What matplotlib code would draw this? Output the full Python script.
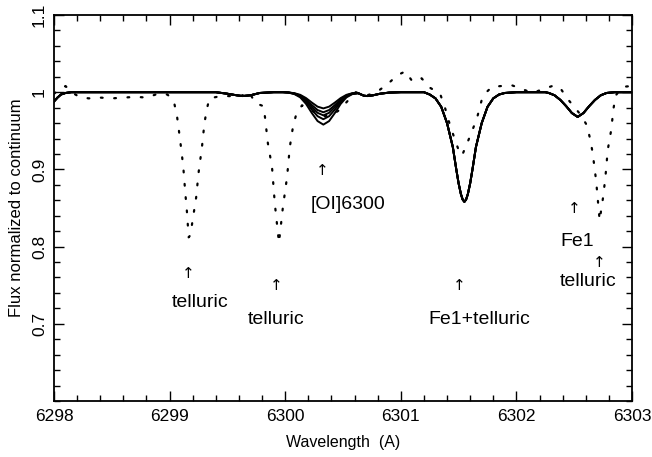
import matplotlib
matplotlib.use("Agg")
import matplotlib.pyplot as plt
from matplotlib.ticker import MultipleLocator, FixedLocator

plt.rcParams['font.family'] = ['Liberation Sans', 'DejaVu Sans']

# ---- synthetic (solid) spectrum, common parts ----
wl_pre = [6298.00, 6298.03, 6298.06, 6298.10, 6298.15, 6298.50, 6299.00, 6299.40,
          6299.50, 6299.58, 6299.63, 6299.70, 6299.78, 6299.90, 6299.98]
fl_pre = [0.988, 0.993, 0.997, 0.999, 1.000, 1.000, 1.000, 1.000,
          0.998, 0.996, 0.995, 0.996, 0.999, 1.000, 1.000]

# [OI] 6300 region, five models with different oxygen abundance
wl_oi = [6300.03, 6300.08, 6300.13, 6300.18, 6300.23, 6300.28, 6300.33,
         6300.38, 6300.43, 6300.48, 6300.53, 6300.58, 6300.63]
fl_oi_1 = [0.9997, 0.9987, 0.9966, 0.9924, 0.9866, 0.9813, 0.979,
           0.9813, 0.9866, 0.9924, 0.9966, 0.9987, 0.9990]
fl_oi_2 = [0.9996, 0.9984, 0.9958, 0.9906, 0.9834, 0.9769, 0.974,
           0.9769, 0.9834, 0.9906, 0.9958, 0.9984, 0.9989]
fl_oi_3 = [0.9996, 0.9982, 0.9952, 0.9892, 0.9808, 0.9733, 0.970,
           0.9733, 0.9808, 0.9892, 0.9952, 0.9982, 0.9988]
fl_oi_4 = [0.9995, 0.9979, 0.9944, 0.9874, 0.9776, 0.9689, 0.965,
           0.9689, 0.9776, 0.9874, 0.9944, 0.9979, 0.9987]
fl_oi_5 = [0.9994, 0.9975, 0.9933, 0.9849, 0.9731, 0.9626, 0.958,
           0.9626, 0.9731, 0.9849, 0.9933, 0.9975, 0.9986]

wl_post = [6300.68, 6300.71, 6300.76, 6300.82, 6300.90, 6301.00, 6301.20,
           6301.25, 6301.30, 6301.35, 6301.40, 6301.45, 6301.48, 6301.50, 6301.52,
           6301.535, 6301.55, 6301.565, 6301.58, 6301.60, 6301.62, 6301.65,
           6301.70, 6301.75, 6301.80, 6301.85, 6301.90, 6302.00, 6302.25,
           6302.28, 6302.33, 6302.38, 6302.43, 6302.48, 6302.53, 6302.58,
           6302.63, 6302.68, 6302.73, 6302.78, 6302.85, 6303.00]
fl_post = [0.9955, 0.995, 0.996, 0.998, 0.9995, 1.000, 1.000,
           0.997, 0.992, 0.981, 0.960, 0.929, 0.900, 0.882, 0.868,
           0.861, 0.858, 0.861, 0.868, 0.882, 0.900, 0.929,
           0.960, 0.981, 0.992, 0.997, 0.999, 1.000, 1.000,
           0.999, 0.996, 0.990, 0.982, 0.973, 0.968, 0.973,
           0.982, 0.990, 0.996, 0.999, 1.000, 1.000]

# ---- observed (dotted) spectrum ----
wl_obs = [6298.00, 6298.05, 6298.10, 6298.15, 6298.22, 6298.30, 6298.40, 6298.50,
          6298.60, 6298.71, 6298.80, 6298.90, 6298.98, 6299.02, 6299.04, 6299.065,
          6299.08, 6299.105, 6299.12, 6299.135, 6299.15, 6299.165, 6299.18, 6299.20,
          6299.23, 6299.25, 6299.28, 6299.30, 6299.32, 6299.345, 6299.41, 6299.51,
          6299.60, 6299.69, 6299.74, 6299.81, 6299.825, 6299.85, 6299.886, 6299.91,
          6299.946, 6299.98, 6300.016, 6300.04, 6300.067, 6300.093, 6300.145,
          6300.20, 6300.27, 6300.34, 6300.40, 6300.47, 6300.53, 6300.61, 6300.71,
          6300.79, 6300.89, 6300.97, 6301.04, 6301.10, 6301.18, 6301.25, 6301.34,
          6301.38, 6301.43, 6301.47, 6301.50, 6301.53, 6301.56, 6301.61, 6301.66,
          6301.70, 6301.74, 6301.79, 6301.87, 6301.96, 6302.05, 6302.14, 6302.23,
          6302.33, 6302.39, 6302.45, 6302.50, 6302.56, 6302.61, 6302.64, 6302.66,
          6302.69, 6302.71, 6302.72, 6302.75, 6302.77, 6302.79, 6302.82, 6302.84,
          6302.86, 6302.92, 6303.00]
fl_obs = [0.998, 1.004, 1.008, 1.000, 0.994, 0.992, 0.993, 0.992,
          0.993, 0.994, 0.993, 0.998, 0.997, 0.992, 0.986, 0.968,
          0.951, 0.921, 0.900, 0.871, 0.845, 0.812, 0.815, 0.835,
          0.864, 0.895, 0.929, 0.958, 0.977, 0.992, 0.994, 0.995,
          0.994, 1.000, 0.986, 0.982, 0.968, 0.934, 0.903, 0.856,
          0.805, 0.851, 0.890, 0.929, 0.955, 0.970, 0.983,
          0.980, 0.972, 0.969, 0.970, 0.977, 0.987, 1.000, 0.996,
          1.000, 1.011, 1.022, 1.027, 1.014, 1.018, 1.006, 0.998,
          0.981, 0.955, 0.938, 0.925, 0.918, 0.929, 0.947, 0.967,
          0.990, 1.000, 1.007, 1.008, 1.009, 1.004, 0.999, 1.004,
          1.009, 1.003, 0.990, 0.981, 0.970, 0.957, 0.938, 0.921,
          0.885, 0.851, 0.834, 0.864, 0.890, 0.925, 0.951, 0.979,
          0.996, 1.007, 1.008]

# ---- annotations ----
arrow_x = [6299.16, 6299.92, 6300.32, 6301.51, 6302.50, 6302.72]
arrow_y = [0.765, 0.750, 0.899, 0.749, 0.849, 0.779]
label_text = ['telluric', 'telluric', '[OI]6300', 'Fe1+telluric', 'Fe1', 'telluric']
label_x = [6299.26, 6299.92, 6300.54, 6301.68, 6302.53, 6302.62]
label_y = [0.727, 0.706, 0.854, 0.705, 0.806, 0.755]

xticks = [6298, 6299, 6300, 6301, 6302, 6303]
yticks = [0.7, 0.8, 0.9, 1.0, 1.1]
ytick_labels = ['0.7', '0.8', '0.9', '1', '1.1']

fig = plt.figure(figsize=(6.52, 4.57), dpi=100)
ax = fig.add_axes([54/652, (457-401)/457, 578/652, 386/457])

for fl_oi in (fl_oi_1, fl_oi_2, fl_oi_3, fl_oi_4, fl_oi_5):
    ax.plot(wl_pre + wl_oi + wl_post, fl_pre + fl_oi + fl_post,
            color='black', lw=1.4, solid_joinstyle='round')

ax.plot(wl_obs, fl_obs, color='black', lw=1.6, linestyle=(0, (0.8, 5.2)),
        dash_capstyle='round')

for ax_, ay_ in zip(arrow_x, arrow_y):
    ax.text(ax_, ay_, '\u2191', ha='center', va='center', fontsize=11,
            family=['DejaVu Sans'])
for t, lx, ly in zip(label_text, label_x, label_y):
    ax.text(lx, ly, t, ha='center', va='center', fontsize=14)

ax.set_xlim(6298, 6303)
ax.set_ylim(0.6, 1.1)
ax.xaxis.set_major_locator(FixedLocator(xticks))
ax.xaxis.set_minor_locator(MultipleLocator(0.2))
ax.yaxis.set_major_locator(FixedLocator(yticks))
ax.set_yticklabels(ytick_labels)
ax.yaxis.set_minor_locator(MultipleLocator(0.02))
ax.set_xticklabels([str(v) for v in xticks])

ax.tick_params(which='both', direction='in', top=True, right=True, width=1.0)
ax.tick_params(which='major', length=7)
ax.tick_params(which='minor', length=4)
ax.tick_params(axis='x', labelsize=12.5, pad=6)
ax.tick_params(axis='y', labelsize=12.5, pad=5)
for lab in ax.get_yticklabels():
    lab.set_rotation(90)
    lab.set_va('center')
for s in ax.spines.values():
    s.set_linewidth(1.3)

ax.set_xlabel('Wavelength  (A)', fontsize=11.5, labelpad=8)
ax.set_ylabel('Flux normalized to continuum', fontsize=12, labelpad=6)

fig.savefig('out.png', dpi=100)
